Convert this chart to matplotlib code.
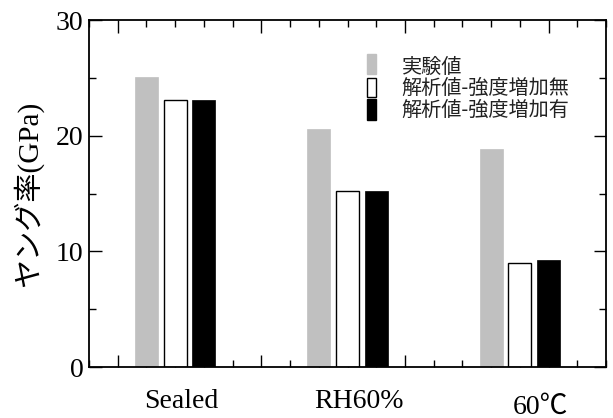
import numpy as np
import matplotlib
matplotlib.use('Agg')
import matplotlib.pyplot as plt
from matplotlib.patches import Rectangle
from matplotlib.ticker import MultipleLocator, FixedLocator

# --- datos ---
condiciones = ['Sealed', 'RH60%', '60℃']
series = ['実験値', '解析値-強度増加無', '解析値-強度増加有']
experimento = [25.1, 20.6, 18.9]
sin_aumento = [23.1, 15.2, 9.0]
con_aumento = [23.1, 15.2, 9.3]

valores = [experimento, sin_aumento, con_aumento]
colores = ['#c0c0c0', 'white', 'black']
bordes = ['#c0c0c0', 'black', 'black']

plt.rcParams['font.family'] = ['Liberation Serif', 'Noto Sans CJK JP']

fig = plt.figure(figsize=(6.13, 4.18), dpi=100)
ax = fig.add_axes([0.1452, 0.122, 0.8434, 0.829])

centros = np.array([3, 9, 15])
ancho = 0.8
for i, (vals, c, e) in enumerate(zip(valores, colores, bordes)):
    ax.bar(centros + (i - 1), vals, width=ancho, color=c, edgecolor=e,
           linewidth=1.0 if c == 'white' else 0.5, zorder=2)

ax.set_xlim(0, 18)
ax.set_ylim(0, 30)

# ticks
ax.xaxis.set_major_locator(FixedLocator([1, 6, 11, 16]))
ax.xaxis.set_minor_locator(MultipleLocator(1))
ax.yaxis.set_major_locator(MultipleLocator(10))
ax.yaxis.set_minor_locator(MultipleLocator(5))
ax.tick_params(which='both', direction='in', top=True, right=True, width=1.0, color='black')
ax.tick_params(which='major', length=9)
ax.tick_params(which='minor', length=5)
ax.tick_params(axis='x', labelbottom=False)
ax.tick_params(axis='y', labelsize=20, pad=4)
for s in ax.spines.values():
    s.set_linewidth(1.3)

# etiquetas de categorías
etiqueta_x = [3.2, 9.4, 15.7]
etiqueta_y = [-0.1, -0.1, -0.115]
for x, y, txt in zip(etiqueta_x, etiqueta_y, condiciones):
    ax.text(x, y, txt, transform=ax.get_xaxis_transform(), ha='center', va='center',
            fontsize=20, family=['Liberation Serif', 'Noto Sans CJK JP'])

ax.set_ylabel('ヤング率(GPa)', fontsize=21, labelpad=9)

# leyenda manual
leyenda_patch_y = [(0.846, 0.903), (0.779, 0.834), (0.713, 0.773)]
leyenda_texto_y = [0.863, 0.805, 0.742]
for (y0, y1), ty, nombre, c, e in zip(leyenda_patch_y, leyenda_texto_y, series, colores, bordes):
    ax.add_patch(Rectangle((0.538, y0), 0.017, y1 - y0, transform=ax.transAxes,
                           facecolor=c, edgecolor=e, linewidth=1.0, zorder=3))
    ax.text(0.605, ty, nombre, transform=ax.transAxes, ha='left', va='center',
            fontsize=14.5, family=['Noto Sans CJK JP'], color='#222222')

fig.savefig('out.png', dpi=100)
